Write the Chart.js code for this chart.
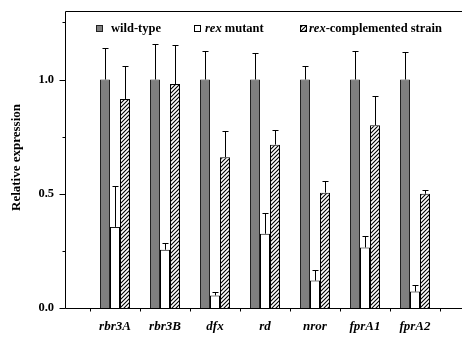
<!DOCTYPE html>
<html>
<head>
<meta charset="utf-8">
<script src="https://cdn.jsdelivr.net/npm/chart.js@4"></script>
<style>
  html, body { margin: 0; padding: 0; background: #fff; }
  #wrap { width: 462px; height: 337px; overflow: hidden; position: relative; }
  canvas { display: block; }
</style>
</head>
<body>
<div id="wrap"><canvas id="c" width="470" height="337"></canvas></div>
<script>
// ---- data ----
const categories = ['rbr3A', 'rbr3B', 'dfx', 'rd', 'nror', 'fprA1', 'fprA2'];
const wildType = [1.0, 1.0, 1.0, 1.0, 1.0, 1.0, 1.0];
const wildTypeErr = [0.14, 0.155, 0.125, 0.115, 0.06, 0.125, 0.12];
const rexMutant = [0.355, 0.255, 0.055, 0.325, 0.12, 0.265, 0.072];
const rexMutantErr = [0.18, 0.03, 0.015, 0.09, 0.045, 0.05, 0.03];
const complemented = [0.915, 0.98, 0.66, 0.715, 0.505, 0.80, 0.50];
const complementedErr = [0.145, 0.17, 0.115, 0.065, 0.05, 0.13, 0.015];
const yMajorTicks = [0.0, 0.5, 1.0];
const yMinorTicks = [0.25, 0.75, 1.25];
const seriesNames = ['wild-type', 'rex mutant', 'rex-complemented strain'];
const yTitle = 'Relative expression';

// ---- hatch pattern ----
function makeHatch() {
  const p = document.createElement('canvas');
  p.width = 4; p.height = 4;
  const g = p.getContext('2d');
  g.fillStyle = '#fff'; g.fillRect(0, 0, 4, 4);
  g.strokeStyle = '#000'; g.lineWidth = 1.1;
  g.beginPath();
  g.moveTo(0, 4); g.lineTo(4, 0);
  g.moveTo(-1, 1); g.lineTo(1, -1);
  g.moveTo(3, 5); g.lineTo(5, 3);
  g.stroke();
  return g.createPattern(p, 'repeat');
}
const ctx0 = document.getElementById('c').getContext('2d');
const hatch = makeHatch();

const FONT = '"Liberation Serif", "Times New Roman", serif';
Chart.defaults.font.family = FONT;
Chart.defaults.color = '#000';

const toPts = arr => arr.map((v, i) => ({ x: i + 1, y: v }));

const errs = [wildTypeErr, rexMutantErr, complementedErr];

const decor = {
  id: 'decor',
  afterDatasetsDraw(chart) {
    const ctx = chart.ctx;
    const y = chart.scales.y;
    ctx.save();
    ctx.strokeStyle = '#000';
    ctx.lineWidth = 1;
    chart.data.datasets.forEach((ds, di) => {
      const meta = chart.getDatasetMeta(di);
      meta.data.forEach((el, i) => {
        const v = ds.data[i].y;
        const e = errs[di][i];
        const x = Math.round(el.x) + 0.5;
        const yt = Math.round(y.getPixelForValue(v + e)) + 0.5;
        const yb = el.y;
        ctx.beginPath();
        ctx.moveTo(x, yb);
        ctx.lineTo(x, yt);
        ctx.moveTo(x - 3, yt);
        ctx.lineTo(x + 3, yt);
        ctx.stroke();
      });
    });
    ctx.restore();
  },
  afterDraw(chart) {
    const ctx = chart.ctx;
    const a = chart.chartArea;
    const ys = chart.scales.y, xs = chart.scales.x;
    ctx.save();
    ctx.strokeStyle = '#000';
    ctx.lineWidth = 1;
    const L = Math.round(a.left) + 0.5, T = Math.round(a.top) + 0.5, B = Math.round(a.bottom) + 0.5;
    ctx.beginPath();
    ctx.moveTo(L, T); ctx.lineTo(chart.width, T);
    ctx.moveTo(L, T); ctx.lineTo(L, B);
    ctx.moveTo(L, B); ctx.lineTo(chart.width, B);
    yMajorTicks.forEach(v => { const p = Math.round(ys.getPixelForValue(v)) + 0.5; ctx.moveTo(L - 6, p); ctx.lineTo(L, p); });
    yMinorTicks.forEach(v => { const p = Math.round(ys.getPixelForValue(v)) + 0.5; ctx.moveTo(L - 3, p); ctx.lineTo(L, p); });
    for (let i = 0; i <= categories.length; i++) {
      const p = Math.round(xs.getPixelForValue(i + 0.5)) + 0.5;
      ctx.moveTo(p, B); ctx.lineTo(p, B + 3);
    }
    ctx.stroke();

    // y title
    ctx.fillStyle = '#000';
    ctx.font = 'bold 13px ' + FONT;
    ctx.textAlign = 'center';
    ctx.textBaseline = 'middle';
    ctx.save();
    ctx.translate(17, (a.top + a.bottom) / 2 - 2);
    ctx.rotate(-Math.PI / 2);
    ctx.fillText(yTitle, 0, 0);
    ctx.restore();

    // legend
    ctx.textAlign = 'left';
    ctx.textBaseline = 'middle';
    const ly = 29;
    const boxes = [
      { x: 96.5, fill: '#808080', stroke: '#222' },
      { x: 194.5, fill: '#fff', stroke: '#000' },
      { x: 300.5, fill: hatch, stroke: '#000' }
    ];
    const textX = [111, 205, 309];
    seriesNames.forEach((name, i) => {
      const b = boxes[i];
      ctx.fillStyle = b.fill;
      ctx.fillRect(b.x, 25.5, 6, 6);
      ctx.strokeStyle = b.stroke;
      ctx.strokeRect(b.x, 25.5, 6, 6);
      ctx.fillStyle = '#000';
      let tx = textX[i];
      if (name.startsWith('rex')) {
        ctx.font = 'italic bold 12.5px ' + FONT;
        ctx.fillText('rex', tx, ly);
        tx += ctx.measureText('rex').width;
        ctx.font = 'bold 12.5px ' + FONT;
        ctx.fillText(name.slice(3), tx, ly);
      } else {
        ctx.font = 'bold 12.5px ' + FONT;
        ctx.fillText(name, tx, ly);
      }
    });
    ctx.restore();
  }
};

new Chart(ctx0, {
  type: 'bar',
  data: {
    datasets: [
      { label: seriesNames[0], data: toPts(wildType), backgroundColor: '#808080', borderColor: '#222', borderWidth: 1 },
      { label: seriesNames[1], data: toPts(rexMutant), backgroundColor: '#fff', borderColor: '#000', borderWidth: 1 },
      { label: seriesNames[2], data: toPts(complemented), backgroundColor: hatch, borderColor: '#000', borderWidth: 1 }
    ]
  },
  options: {
    responsive: false,
    devicePixelRatio: 1,
    animation: false,
    events: [],
    layout: { padding: { top: 11, right: 5, left: 0, bottom: 0 } },
    datasets: { bar: { categoryPercentage: 0.6, barPercentage: 1.0 } },
    plugins: { legend: { display: false }, tooltip: { enabled: false } },
    scales: {
      x: {
        type: 'linear',
        min: 0, max: categories.length + 1,
        offset: false,
        grid: { display: false, offset: false, drawTicks: false, tickLength: 0 },
        border: { display: false },
        ticks: {
          stepSize: 1,
          autoSkip: false,
          maxRotation: 0,
          padding: 11,
          font: { size: 13, weight: 'bold', style: 'italic' },
          callback: v => (Number.isInteger(v) && v >= 1 && v <= categories.length) ? categories[v - 1] : ''
        },
        afterFit: s => { s.height = 29; s.paddingLeft = 0; s.paddingRight = 0; }
      },
      y: {
        type: 'linear',
        min: 0, max: 1.3,
        grid: { display: false, drawTicks: false, tickLength: 0 },
        border: { display: false },
        ticks: {
          stepSize: 0.25,
          padding: 11,
          font: { size: 12.5, weight: 'bold' },
          callback: v => yMajorTicks.some(t => Math.abs(t - v) < 1e-9) ? v.toFixed(1) : ''
        },
        afterFit: s => { s.width = 65; s.paddingTop = 0; s.paddingBottom = 0; }
      }
    }
  },
  plugins: [decor]
});
</script>
</body>
</html>
